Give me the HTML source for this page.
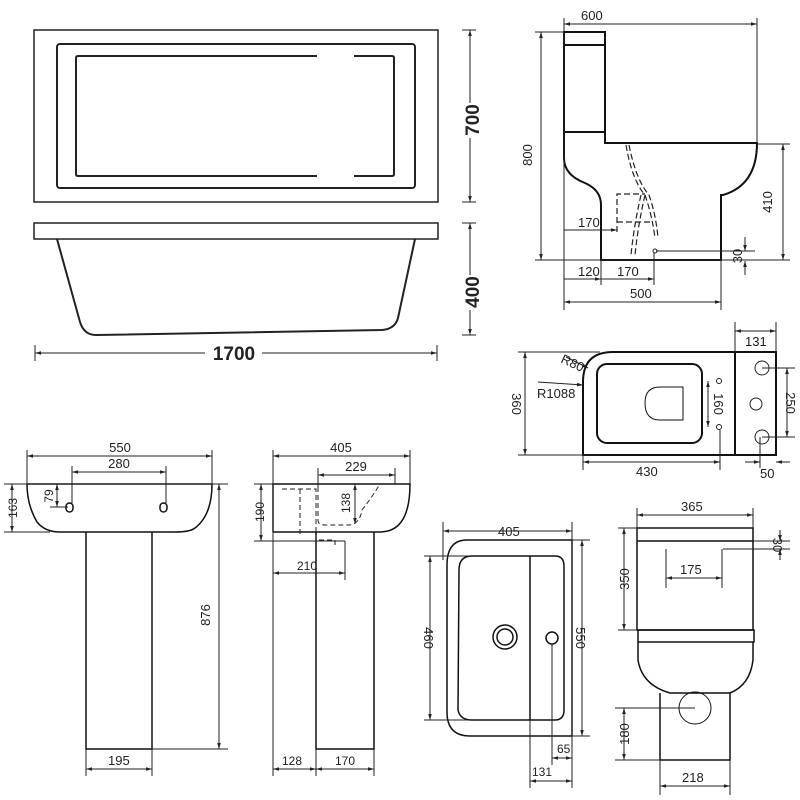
<!DOCTYPE html>
<html><head><style>body{margin:0;background:#fff}svg{display:block}text{font-family:"Liberation Sans",sans-serif;font-size:13px;fill:#222}</style></head><body>
<svg width="800" height="800" viewBox="0 0 800 800" xmlns="http://www.w3.org/2000/svg">
<defs>
<marker id="a" viewBox="0 0 10 10" refX="10" refY="5" markerWidth="6" markerHeight="6" orient="auto-start-reverse"><path d="M0,2L10,5L0,8z" fill="#222"/></marker>
</defs>
<g fill="none" stroke="#222" stroke-width="2">
<rect x="34" y="30" width="404" height="172" stroke-width="1.5"/>
<rect x="57" y="44" width="358" height="144" rx="3"/>
<path d="M317,56H78q-2,0-2,2V174q0,2,2,2H317M354,56H392q2,0,2,2V174q0,2-2,2H354"/>
<rect x="34" y="223" width="404" height="16" stroke-width="1.5"/>
<path d="M57,239L80,322Q84,335 96,335L382,330Q395,329 398,318L415,239"/>
</g>
<g stroke="#222" stroke-width="1" fill="none">
<line x1="470" y1="30" x2="470" y2="103" marker-start="url(#a)"/><line x1="470" y1="138" x2="470" y2="202" marker-end="url(#a)"/>
<line x1="462" y1="30" x2="476" y2="30"/><line x1="462" y1="202" x2="476" y2="202"/>
<line x1="470" y1="223" x2="470" y2="275" marker-start="url(#a)"/><line x1="470" y1="310" x2="470" y2="335" marker-end="url(#a)"/>
<line x1="462" y1="223" x2="476" y2="223"/><line x1="462" y1="335" x2="476" y2="335"/>
<line x1="35" y1="353" x2="205" y2="353" marker-start="url(#a)"/><line x1="262" y1="353" x2="437" y2="353" marker-end="url(#a)"/>
<line x1="35" y1="345" x2="35" y2="361"/><line x1="437" y1="345" x2="437" y2="361"/>
</g>
<text x="479" y="120" transform="rotate(-90 479 120)" text-anchor="middle" style="font-size:19px;font-weight:bold">700</text>
<text x="479" y="292" transform="rotate(-90 479 292)" text-anchor="middle" style="font-size:19px;font-weight:bold">400</text>
<text x="234" y="360" text-anchor="middle" style="font-size:19px;font-weight:bold">1700</text>

<g fill="none" stroke="#111" stroke-width="2">
<path d="M564,32H605V132H564Z"/><line x1="564" y1="45" x2="605" y2="45"/>
<path d="M605,132V143H757Q757,185 723,195H721V260H601V205Q601,190 585,183Q564,175 564,158V132"/>
</g>
<g fill="none" stroke="#222" stroke-width="1.2" stroke-dasharray="6,3">
<path d="M626,145Q632,180 645,195Q652,215 655,238"/><path d="M629,145Q636,180 649,195Q656,215 658,238"/>
<path d="M641,195Q634,225 631,255M645,195Q638,225 635,255"/>
<path d="M617,232V194H645M617,222H652"/>
</g>
<g stroke="#222" stroke-width="1" fill="none">
<line x1="564" y1="24" x2="757" y2="24" marker-start="url(#a)" marker-end="url(#a)"/>
<line x1="564" y1="18" x2="564" y2="310"/><line x1="757" y1="18" x2="757" y2="143"/>
<line x1="541" y1="32" x2="541" y2="260" marker-start="url(#a)" marker-end="url(#a)"/>
<line x1="535" y1="32" x2="564" y2="32"/><line x1="535" y1="260" x2="790" y2="260"/>
<line x1="783" y1="144" x2="783" y2="260" marker-start="url(#a)" marker-end="url(#a)"/>
<line x1="757" y1="144" x2="790" y2="144"/>
<line x1="745" y1="237" x2="745" y2="251" marker-end="url(#a)"/><line x1="745" y1="275" x2="745" y2="261" marker-end="url(#a)"/>
<line x1="656" y1="251" x2="755" y2="251"/>
<line x1="564" y1="230" x2="617" y2="230" marker-end="url(#a)"/>
<line x1="564" y1="279" x2="601" y2="279" marker-end="url(#a)"/><line x1="601" y1="279" x2="654" y2="279" marker-end="url(#a)"/>
<line x1="601" y1="260" x2="601" y2="285"/><line x1="654" y1="252" x2="654" y2="285"/>
<line x1="564" y1="302" x2="721" y2="302" marker-start="url(#a)" marker-end="url(#a)"/><line x1="721" y1="260" x2="721" y2="310"/>
</g>
<circle cx="655" cy="251" r="2" fill="none" stroke="#222"/>
<text x="581" y="20">600</text><text x="532" y="155" transform="rotate(-90 532 155)" text-anchor="middle">800</text>
<text x="772" y="202" transform="rotate(-90 772 202)" text-anchor="middle">410</text>
<text x="742" y="256" transform="rotate(-90 742 256)" text-anchor="middle">30</text>
<text x="578" y="227">170</text><text x="578" y="276">120</text><text x="617" y="276">170</text><text x="630" y="298">500</text>

<g fill="none" stroke="#111" stroke-width="2">
<path d="M735,352H613Q583,352 583,382V455H735Z"/>
<rect x="735" y="352" width="41" height="103"/>
<rect x="597" y="364" width="105" height="79" rx="10"/>
<path d="M683,387H660Q645,387 645,403Q645,420 660,420H683Z" stroke-width="1"/>
</g>
<g fill="none" stroke="#222" stroke-width="1">
<circle cx="762" cy="368" r="7"/><circle cx="756" cy="404" r="6"/><circle cx="762" cy="437" r="7"/>
<circle cx="719" cy="381" r="2.5"/><circle cx="719" cy="427" r="2.5"/>
<line x1="708" y1="381" x2="708" y2="427" marker-start="url(#a)" marker-end="url(#a)"/>
<line x1="735" y1="331" x2="776" y2="331" marker-start="url(#a)" marker-end="url(#a)"/>
<line x1="735" y1="322" x2="735" y2="352"/><line x1="776" y1="322" x2="776" y2="352"/>
<line x1="787" y1="368" x2="787" y2="437" marker-start="url(#a)" marker-end="url(#a)"/>
<line x1="762" y1="368" x2="795" y2="368"/><line x1="762" y1="437" x2="795" y2="437"/>
<line x1="525" y1="352" x2="525" y2="455" marker-start="url(#a)" marker-end="url(#a)"/>
<line x1="518" y1="352" x2="600" y2="352"/><line x1="518" y1="455" x2="600" y2="455"/>
<line x1="583" y1="462" x2="720" y2="462" marker-start="url(#a)" marker-end="url(#a)"/>
<line x1="583" y1="455" x2="583" y2="470"/><line x1="720" y1="430" x2="720" y2="470"/>
<line x1="745" y1="462" x2="760" y2="462" marker-end="url(#a)"/><line x1="790" y1="462" x2="776" y2="462" marker-end="url(#a)"/>
<line x1="760" y1="437" x2="760" y2="468"/>
<line x1="566" y1="357" x2="588" y2="368" marker-end="url(#a)"/>
<line x1="538" y1="382" x2="583" y2="385" marker-end="url(#a)"/>
</g>
<text x="745" y="346">131</text><text x="560" y="362" transform="rotate(25 560 362)">R80</text><text x="537" y="398">R1088</text>
<text x="512" y="404" transform="rotate(90 512 404)" text-anchor="middle">360</text>
<text x="714" y="404" transform="rotate(90 714 404)" text-anchor="middle">160</text>
<text x="786" y="403" transform="rotate(90 786 403)" text-anchor="middle">250</text>
<text x="636" y="476">430</text><text x="760" y="478">50</text>

<g fill="none" stroke="#111" stroke-width="1.5">
<path d="M27,484H212Q212,515 195,528Q190,532 175,532H60Q45,532 37,522Q27,505 27,484Z"/>
<path d="M86,532V749H152V532"/>
<rect x="66" y="503" width="7" height="9" rx="3.5"/><rect x="160" y="503" width="7" height="9" rx="3.5"/>
</g>
<g fill="none" stroke="#222" stroke-width="1">
<line x1="27" y1="456" x2="212" y2="456" marker-start="url(#a)" marker-end="url(#a)"/>
<line x1="27" y1="450" x2="27" y2="484"/><line x1="212" y1="450" x2="212" y2="484"/>
<line x1="72" y1="472" x2="166" y2="472" marker-start="url(#a)" marker-end="url(#a)"/>
<line x1="72" y1="466" x2="72" y2="505"/><line x1="166" y1="466" x2="166" y2="505"/>
<line x1="4" y1="484" x2="228" y2="484"/><line x1="4" y1="532" x2="50" y2="532"/>
<line x1="12" y1="484" x2="12" y2="532" marker-start="url(#a)" marker-end="url(#a)"/>
<line x1="57" y1="484" x2="57" y2="507" marker-start="url(#a)" marker-end="url(#a)"/><line x1="50" y1="507" x2="68" y2="507"/>
<line x1="219" y1="484" x2="219" y2="749" marker-start="url(#a)" marker-end="url(#a)"/><line x1="152" y1="749" x2="228" y2="749"/>
<line x1="86" y1="769" x2="152" y2="769" marker-start="url(#a)" marker-end="url(#a)"/>
<line x1="86" y1="749" x2="86" y2="776"/><line x1="152" y1="749" x2="152" y2="776"/>
</g>
<text x="120" y="452" text-anchor="middle">550</text><text x="119" y="468" text-anchor="middle">280</text>
<text x="17" y="508" transform="rotate(-90 17 508)" text-anchor="middle" style="font-size:12px">163</text>
<text x="53" y="496" transform="rotate(-90 53 496)" text-anchor="middle" style="font-size:12px">79</text>
<text x="210" y="615" transform="rotate(-90 210 615)" text-anchor="middle">876</text>
<text x="108" y="765">195</text>

<g fill="none" stroke="#111" stroke-width="1.5">
<path d="M273,532V484H410Q410,532 380,532H273"/>
<path d="M316,532V749H374V532"/>
</g>
<g fill="none" stroke="#222" stroke-width="1" stroke-dasharray="5,3">
<path d="M282,489H316V540H335V546M300,489V537M318,487V520Q318,525 325,525H350Q360,523 362,510Q370,500 380,484"/>
</g>
<g fill="none" stroke="#222" stroke-width="1">
<line x1="273" y1="456" x2="410" y2="456" marker-start="url(#a)" marker-end="url(#a)"/>
<line x1="273" y1="450" x2="273" y2="776"/><line x1="410" y1="450" x2="410" y2="484"/>
<line x1="318" y1="475" x2="395" y2="475" marker-start="url(#a)" marker-end="url(#a)"/><line x1="395" y1="468" x2="395" y2="484"/><line x1="318" y1="468" x2="318" y2="487"/>
<line x1="254" y1="484" x2="273" y2="484"/><line x1="254" y1="541" x2="345" y2="541"/>
<line x1="261" y1="484" x2="261" y2="541" marker-start="url(#a)" marker-end="url(#a)"/>
<line x1="355" y1="484" x2="355" y2="524" marker-start="url(#a)" marker-end="url(#a)"/>
<line x1="273" y1="573" x2="345" y2="573" marker-start="url(#a)" marker-end="url(#a)"/><line x1="345" y1="541" x2="345" y2="580"/>
<line x1="273" y1="769" x2="316" y2="769" marker-start="url(#a)" marker-end="url(#a)"/><line x1="316" y1="769" x2="374" y2="769" marker-start="url(#a)" marker-end="url(#a)"/>
<line x1="316" y1="749" x2="316" y2="776"/><line x1="374" y1="749" x2="374" y2="776"/>
</g>
<text x="341" y="452" text-anchor="middle">405</text><text x="356" y="471" text-anchor="middle">229</text>
<text x="264" y="512" transform="rotate(-90 264 512)" text-anchor="middle" style="font-size:12px">190</text>
<text x="350" y="503" transform="rotate(-90 350 503)" text-anchor="middle" style="font-size:12px">138</text>
<text x="297" y="570" style="font-size:12px">210</text><text x="282" y="765" style="font-size:12px">128</text><text x="335" y="765" style="font-size:12px">170</text>

<g fill="none" stroke="#111" stroke-width="1.5">
<path d="M572,540H467Q447,540 447,565V712Q447,736 470,736H572Z"/>
<path d="M530,556H472Q459,556 459,570L458,710Q460,720 472,720H530"/>
<path d="M530,556V720M530,556H555Q564,556 564,566V710Q564,720 555,720H530"/>
<circle cx="505" cy="637" r="12"/><circle cx="505" cy="637" r="8"/><circle cx="552" cy="638" r="6"/>
</g>
<g fill="none" stroke="#222" stroke-width="1">
<line x1="443" y1="531" x2="572" y2="531" marker-start="url(#a)" marker-end="url(#a)"/>
<line x1="443" y1="522" x2="443" y2="560"/><line x1="572" y1="522" x2="572" y2="788"/>
<line x1="582" y1="540" x2="582" y2="736" marker-start="url(#a)" marker-end="url(#a)"/>
<line x1="572" y1="540" x2="590" y2="540"/><line x1="572" y1="736" x2="590" y2="736"/>
<line x1="430" y1="556" x2="430" y2="720" marker-start="url(#a)" marker-end="url(#a)"/>
<line x1="424" y1="556" x2="470" y2="556"/><line x1="424" y1="720" x2="470" y2="720"/>
<line x1="552" y1="644" x2="552" y2="765"/><line x1="530" y1="720" x2="530" y2="788"/>
<line x1="552" y1="758" x2="572" y2="758" marker-start="url(#a)" marker-end="url(#a)"/>
<line x1="530" y1="781" x2="572" y2="781" marker-start="url(#a)" marker-end="url(#a)"/>
</g>
<text x="498" y="536">405</text>
<text x="424" y="638" transform="rotate(90 424 638)" text-anchor="middle">460</text>
<text x="576" y="638" transform="rotate(90 576 638)" text-anchor="middle">550</text>
<text x="557" y="753" style="font-size:12px">65</text><text x="532" y="776" style="font-size:12px">131</text>

<g fill="none" stroke="#111" stroke-width="1.5">
<path d="M637,528H753V630H637Z"/><line x1="637" y1="541" x2="753" y2="541"/>
<path d="M638,630H754V642H638Z"/>
<path d="M638,642V660Q642,685 670,693H730Q750,685 753,660V642"/>
<path d="M660,693V760H730V693"/>
<circle cx="695" cy="708" r="16" stroke-width="1"/>
</g>
<g fill="none" stroke="#222" stroke-width="1">
<line x1="637" y1="515" x2="753" y2="515" marker-start="url(#a)" marker-end="url(#a)"/>
<line x1="637" y1="508" x2="637" y2="528"/><line x1="753" y1="508" x2="753" y2="528"/>
<line x1="624" y1="528" x2="624" y2="630" marker-start="url(#a)" marker-end="url(#a)"/>
<line x1="618" y1="528" x2="637" y2="528"/><line x1="618" y1="630" x2="637" y2="630"/>
<line x1="780" y1="530" x2="780" y2="541" marker-end="url(#a)"/><line x1="780" y1="560" x2="780" y2="549" marker-end="url(#a)"/>
<line x1="753" y1="541" x2="790" y2="541"/><line x1="723" y1="549" x2="790" y2="549"/>
<line x1="666" y1="549" x2="666" y2="588"/><line x1="722" y1="549" x2="722" y2="588"/>
<line x1="666" y1="578" x2="722" y2="578" marker-start="url(#a)" marker-end="url(#a)"/>
<line x1="624" y1="708" x2="624" y2="760" marker-start="url(#a)" marker-end="url(#a)"/>
<line x1="615" y1="708" x2="695" y2="708"/><line x1="615" y1="760" x2="660" y2="760"/>
<line x1="660" y1="786" x2="730" y2="786" marker-start="url(#a)" marker-end="url(#a)"/>
<line x1="660" y1="760" x2="660" y2="795"/><line x1="730" y1="760" x2="730" y2="795"/>
</g>
<text x="681" y="511">365</text><text x="680" y="574">175</text>
<text x="629" y="579" transform="rotate(-90 629 579)" text-anchor="middle">350</text>
<text x="773" y="545" transform="rotate(90 773 545)" text-anchor="middle">30</text>
<text x="629" y="734" transform="rotate(-90 629 734)" text-anchor="middle">180</text>
<text x="682" y="782">218</text>
</svg>
</body></html>
